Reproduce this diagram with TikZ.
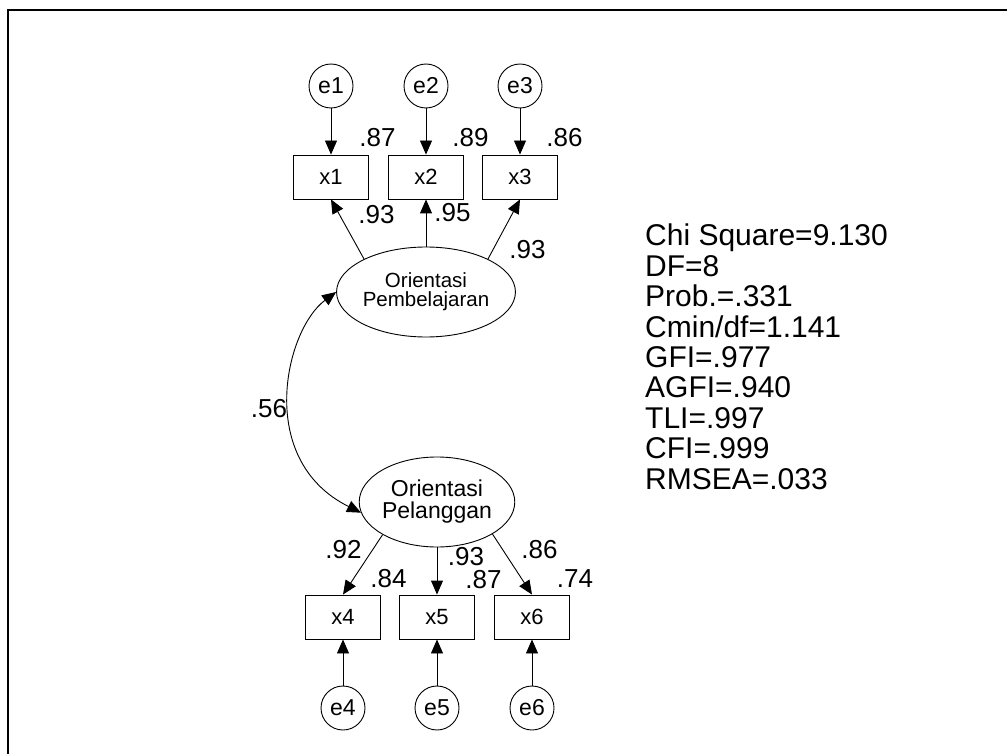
\documentclass[tikz,border=0pt]{standalone}
\usepackage{fontspec}
\setmainfont{Liberation Sans}
\usetikzlibrary{arrows.meta,shapes.geometric}
\begin{document}
\begin{tikzpicture}[x=1pt,y=1pt,
  obs/.style={draw, line width=0.9pt, minimum width=75pt, minimum height=44pt, inner sep=0pt, font=\fontsize{22}{22}\selectfont},
  err/.style={draw, circle, line width=0.9pt, minimum size=44pt, inner sep=0pt, font=\fontsize{23}{23}\selectfont},
  lat/.style={draw, ellipse, line width=0.9pt, minimum width=152pt, minimum height=90pt, inner sep=0pt, align=center},
  lab/.style={inner sep=0pt, font=\fontsize{26}{26}\selectfont},
  fit/.style={inner sep=0pt, align=left, anchor=north west, font=\fontsize{30}{30.4}\selectfont},
  arr/.style={line width=0.9pt, -{Triangle[length=14pt,width=12pt]}},
  cov/.style={line width=0.9pt, {Triangle[length=14pt,width=12pt]}-{Triangle[length=14pt,width=12pt]}},
]
\useasboundingbox (0,0) rectangle (1007,-754);
\draw[line width=2pt] (8,-754) -- (8,-10) -- (1007,-10);

% error terms
\node[err] (e1) at (331,-86) {e1};
\node[err] (e2) at (426,-86) {e2};
\node[err] (e3) at (520,-86) {e3};
\node[err] (e4) at (343,-708) {e4};
\node[err] (e5) at (437,-708) {e5};
\node[err] (e6) at (532,-708) {e6};

% observed
\node[obs] (x1) at (331,-177) {x1};
\node[obs] (x2) at (426,-177) {x2};
\node[obs] (x3) at (520,-177) {x3};
\node[obs] (x4) at (343,-617) {x4};
\node[obs] (x5) at (437,-617) {x5};
\node[obs] (x6) at (532,-617) {x6};

% latent
\node[lat, font=\fontsize{20.5}{19}\selectfont] (pb) at (426,-292) {Orientasi\\Pembelajaran};
\node[lat, font=\fontsize{23}{22}\selectfont] (pl) at (437,-502) {Orientasi\\Pelanggan};

% error paths
\draw[arr] (e1) -- (x1);
\draw[arr] (e2) -- (x2);
\draw[arr] (e3) -- (x3);
\draw[arr] (e4) -- (x4);
\draw[arr] (e5) -- (x5);
\draw[arr] (e6) -- (x6);

% loadings
\draw[arr] (pb.152) -- (x1.south);
\draw[arr] (pb.north) -- (x2.south);
\draw[arr] (pb.28) -- (x3.south);
\draw[arr] (pl.211) -- (x4.north);
\draw[arr] (pl.south) -- (x5.north);
\draw[arr] (pl.330) -- (x6.north);

% covariance
\draw[cov] (pb.west) .. controls (285,-330) and (255,-460) .. (pl.188);

% labels
\node[lab] (r1) at (377.5,-137.5) {.87};
\node[lab] (r2) at (470.5,-137.5) {.89};
\node[lab] (r3) at (564.5,-137.5) {.86};
\node[lab] (l1) at (376.5,-215) {.93};
\node[lab] (l2) at (452.5,-213) {.95};
\node[lab] (l3) at (527.5,-250) {.93};
\node[lab] (c1) at (269,-409) {.56};
\node[lab] (l4) at (343.5,-550) {.92};
\node[lab] (l5) at (466,-557) {.93};
\node[lab] (l6) at (539.5,-550) {.86};
\node[lab] (r4) at (388.5,-579) {.84};
\node[lab] (r5) at (483.5,-580) {.87};
\node[lab] (r6) at (575,-579) {.74};

% fit indices
\node[fit] (fitidx) at (645,-224) {Chi Square=9.130\\DF=8\\Prob.=.331\\Cmin/df=1.141\\GFI=.977\\AGFI=.940\\TLI=.997\\CFI=.999\\RMSEA=.033};
\end{tikzpicture}
\end{document}
